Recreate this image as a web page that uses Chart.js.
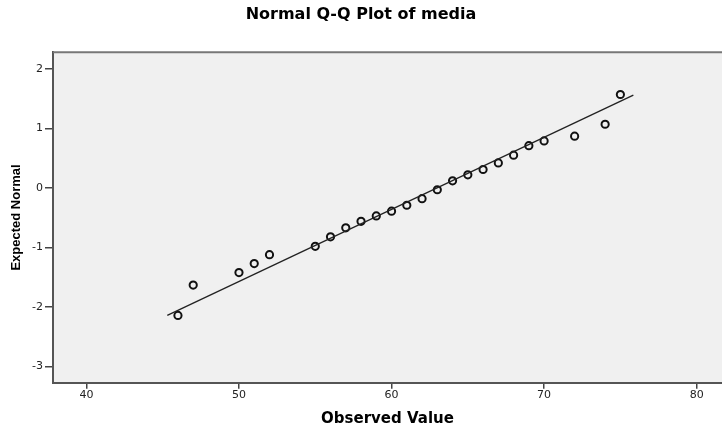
<!DOCTYPE html>
<html>
<head>
<meta charset="utf-8">
<script src="https://cdn.jsdelivr.net/npm/chart.js@4"></script>
<style>
  html, body { margin: 0; padding: 0; background: #fff; }
  #wrap { width: 722px; height: 428px; }
</style>
</head>
<body>
<div id="wrap"><canvas id="qq"></canvas></div>
<script>
/* ================= DATA ================= */
const observed = [46, 47, 50, 51, 52, 55, 56, 57, 58, 59, 60, 61, 62, 63, 64, 65, 66, 67, 68, 69, 70, 72, 74, 75];
const expected = [-2.14, -1.63, -1.42, -1.27, -1.12, -0.98, -0.82, -0.67, -0.56, -0.47, -0.39, -0.29, -0.18, -0.03, 0.12, 0.22, 0.31, 0.42, 0.55, 0.71, 0.79, 0.87, 1.07, 1.57];

// reference line end points
const lineX = [45.3, 75.85];
const lineY = [-2.14, 1.56];

const xTicks = [40, 50, 60, 70, 80];
const yTicks = [-3, -2, -1, 0, 1, 2];

/* ================= PLOT BOX ================= */
const plotBox = {
  id: "plotBox",
  beforeDraw(chart) {
    const { ctx, chartArea: a } = chart;
    ctx.save();
    ctx.fillStyle = "#f0f0f0";
    ctx.fillRect(a.left, a.top, a.right - a.left, a.bottom - a.top);
    ctx.restore();
  },
  afterDraw(chart) {
    const { ctx, chartArea: a } = chart;
    ctx.save();
    ctx.strokeStyle = "#777";
    ctx.lineWidth = 2;
    ctx.beginPath();
    ctx.moveTo(a.left, a.top);
    ctx.lineTo(a.right, a.top);
    ctx.stroke();
    ctx.restore();
  }
};

/* ================= CHART ================= */
const points = observed.map((x, i) => ({ x: x, y: expected[i] }));
const fitLine = lineX.map((x, i) => ({ x: x, y: lineY[i] }));

new Chart(document.getElementById("qq"), {
  type: "scatter",
  data: {
    datasets: [
      {
        type: "line",
        data: fitLine,
        borderColor: "#222",
        borderWidth: 1.3,
        pointRadius: 0,
        fill: false
      },
      {
        data: points,
        pointRadius: 3.6,
        pointBorderWidth: 2,
        pointBorderColor: "#111",
        pointBackgroundColor: "rgba(0,0,0,0)"
      }
    ]
  },
  options: {
    responsive: true,
    maintainAspectRatio: false,
    animation: false,
    layout: { padding: 0, autoPadding: false },
    plugins: {
      legend: { display: false },
      tooltip: { enabled: false },
      title: {
        display: true,
        text: "Normal Q-Q Plot of media",
        color: "#000",
        font: { family: "DejaVu Sans", size: 16, weight: "bold" },
        padding: { top: 5, bottom: 28 }
      }
    },
    scales: {
      x: {
        type: "linear",
        min: 37.81,
        max: 81.66,
        afterBuildTicks: s => { s.ticks = xTicks.map(v => ({ value: v })); },
        afterFit: s => { s.height = 45.3; },
        grid: { drawOnChartArea: false, drawTicks: true, tickLength: 6, color: "#444", lineWidth: 1.5 },
        border: { display: true, color: "#555", width: 2 },
        ticks: { color: "#222", padding: 0, font: { family: "DejaVu Sans", size: 11 } },
        title: {
          display: true,
          text: "Observed Value",
          color: "#000",
          font: { family: "DejaVu Sans", size: 15, weight: "bold" },
          padding: { top: 0, bottom: 0 }
        }
      },
      y: {
        type: "linear",
        min: -3.27,
        max: 2.28,
        afterBuildTicks: s => { s.ticks = yTicks.map(v => ({ value: v })); },
        afterFit: s => { s.width = 53; },
        grid: { drawOnChartArea: false, drawTicks: true, tickLength: 8, color: "#444", lineWidth: 1.5 },
        border: { display: true, color: "#555", width: 2 },
        ticks: { color: "#222", padding: 2, font: { family: "DejaVu Sans", size: 11 } },
        title: {
          display: true,
          text: "Expected Normal",
          color: "#000",
          font: { family: "Liberation Sans", size: 13, weight: "bold" },
          padding: { top: 9, bottom: 0 }
        }
      }
    }
  },
  plugins: [plotBox]
});
</script>
</body>
</html>
